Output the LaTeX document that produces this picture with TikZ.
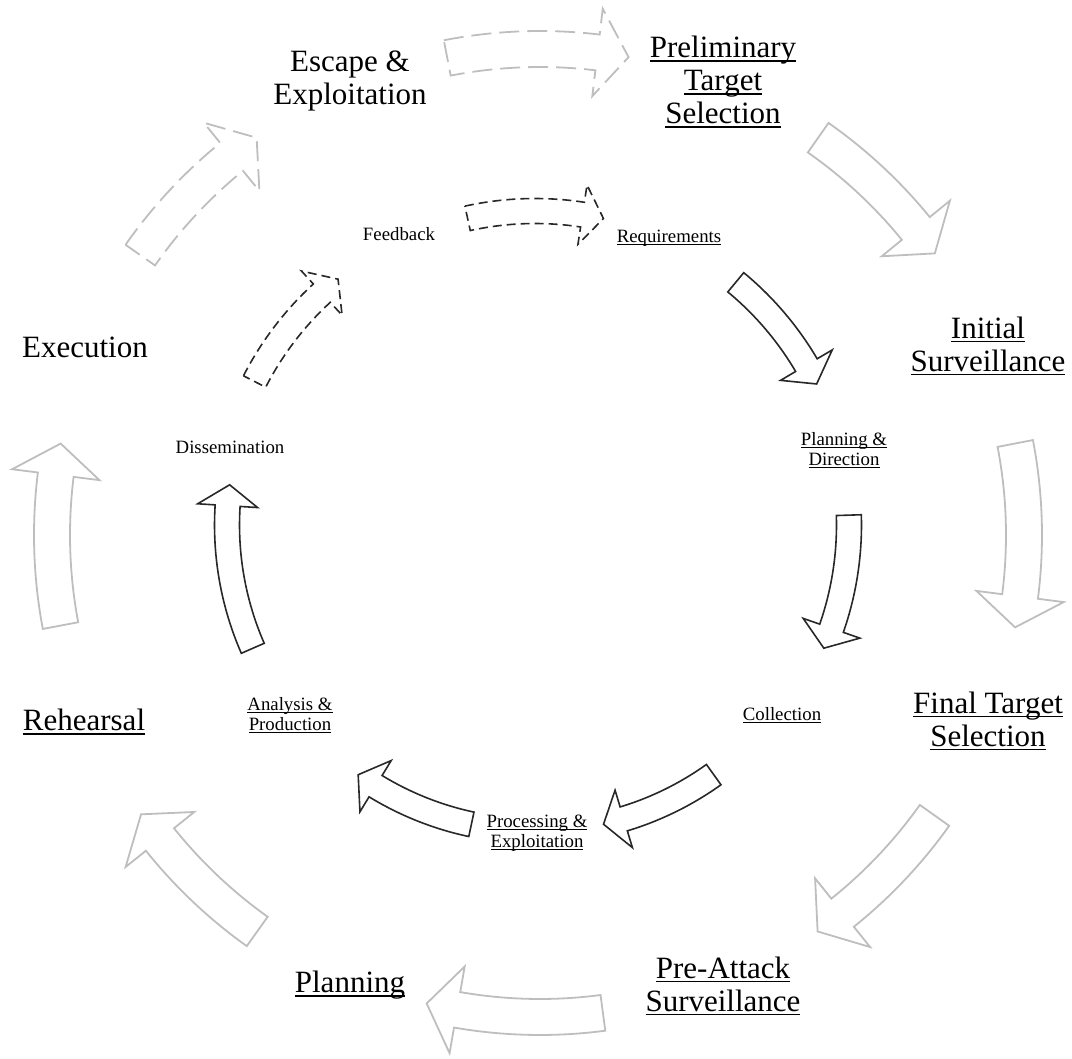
\documentclass[tikz,border=0pt]{standalone}
\usepackage{fontspec}
\setmainfont{Liberation Serif}
\usetikzlibrary{positioning}
\definecolor{outergray}{RGB}{190,190,190}
\definecolor{innerdark}{RGB}{40,40,40}
\tikzset{
  % Outer cycle label
  outerlabel/.style={
    font=\fontsize{15.5}{16.5}\selectfont, align=center, inner sep=0pt
  },
  % Inner cycle label
  innerlabel/.style={
    font=\fontsize{9.4}{10}\selectfont, align=center, inner sep=0pt
  },
  % Outer block arrow
  outerarr/.style={
    draw=outergray, line width=0.9pt, line join=miter
  },
  % Outer dashed block arrow
  outerback/.style={
    outerarr, dash pattern=on 10pt off 4pt
  },
  % Inner block arrow
  innerarr/.style={
    draw=innerdark, line width=0.8pt, line join=miter
  },
  % Inner dashed block arrow
  innerback/.style={
    innerarr, dash pattern=on 4.5pt off 2.5pt
  },
}
% underline at a fixed depth, through the descenders
\newcommand{\undl}[1]{\leavevmode\setbox0\hbox{#1}\rlap{\rule[-0.14em]{\wd0}{0.055em}}\box0}
% curved block arrow: style, centre, radius, tail angle, tip angle
\newcommand{\ringarrow}[5]{%
  \pgfmathsetmacro{\arOut}{#3+\shaftw}%
  \pgfmathsetmacro{\arIn}{#3-\shaftw}%
  \pgfmathsetmacro{\arHi}{#3+\headw}%
  \pgfmathsetmacro{\arLo}{#3-\headw}%
  \pgfmathsetmacro{\arBase}{#5+\heada}%
  \draw[#1, shift={(#2)}] (#4:\arOut)
    arc[start angle=#4, end angle=\arBase, radius=\arOut]
    -- (\arBase:\arHi) -- (#5:#3) -- (\arBase:\arLo) -- (\arBase:\arIn)
    arc[start angle=\arBase, end angle=#4, radius=\arIn] -- cycle;
}

\begin{document}
\begin{tikzpicture}[x=0.5pt, y=0.5pt]

\useasboundingbox (0,0) rectangle (1072,-1059);

\coordinate (outer) at (540,-535);
\coordinate (inner) at (535,-525);

%% ── OUTER RING ───────────────────────────────────────────────────────────

\node[outerlabel] (prelim)  at (723,-82)  {\undl{Preliminary}\\\undl{Target}\\\undl{Selection}};
\node[outerlabel] (initial) at (988,-346) {\undl{Initial}\\\undl{Surveillance}};
\node[outerlabel] (final)   at (988,-721) {\undl{Final Target}\\\undl{Selection}};
\node[outerlabel] (preatk)  at (723,-986) {\undl{Pre-Attack}\\\undl{Surveillance}};
\node[outerlabel] (plan)    at (350,-985) {\undl{Planning}};
\node[outerlabel] (rehears) at (84,-722)  {\undl{Rehearsal}};
\node[outerlabel] (exec)    at (85,-347)  {Execution};
\node[outerlabel] (escape)  at (350,-81)  {Escape \&\\Exploitation};

\def\shaftw{18}\def\headw{44}\def\heada{3.7}
\ringarrow{outerback}{outer}{486}{101}{79.5}
\ringarrow{outerarr}{outer}{485}{55}{35.5}
\ringarrow{outerarr}{outer}{484}{10.9}{-11}
\ringarrow{outerarr}{outer}{484}{-35.4}{-55}
\ringarrow{outerarr}{outer}{482}{-82.5}{-103.6}
\ringarrow{outerarr}{outer}{487}{-125.5}{-145}
\ringarrow{outerarr}{outer}{488}{190.7}{169.2}
\ringarrow{outerback}{outer}{488}{145}{125.5}

%% ── INNER RING ───────────────────────────────────────────────────────────

\node[innerlabel] (req)     at (669,-238) {\undl{Requirements}};
\node[innerlabel] (plandir) at (844,-450) {\undl{Planning \&}\\\undl{Direction}};
\node[innerlabel] (collect) at (782,-715) {\undl{Collection}};
\node[innerlabel] (process) at (537,-833) {\undl{Processing \&}\\\undl{Exploitation}};
\node[innerlabel] (analys)  at (290,-715) {\undl{Analysis \&}\\\undl{Production}};
\node[innerlabel] (dissem)  at (230,-447) {Dissemination};
\node[innerlabel] (feedbk)  at (399,-234) {Feedback};

\def\shaftw{12.5}\def\headw{30}\def\heada{3.9}
\ringarrow{innerback}{inner}{314}{102.4}{77.4}
\ringarrow{innerarr}{inner}{315}{50.4}{26.6}
\ringarrow{innerarr}{inner}{314}{1.8}{-23.1}
\ringarrow{innerarr}{inner}{307}{-54.4}{-77.1}
\ringarrow{innerarr}{inner}{306}{-102}{-125.3}
\ringarrow{innerarr}{inner}{308}{203.6}{172.5}
\ringarrow{innerback}{inner}{315}{152.9}{128.7}

\end{tikzpicture}
\end{document}
